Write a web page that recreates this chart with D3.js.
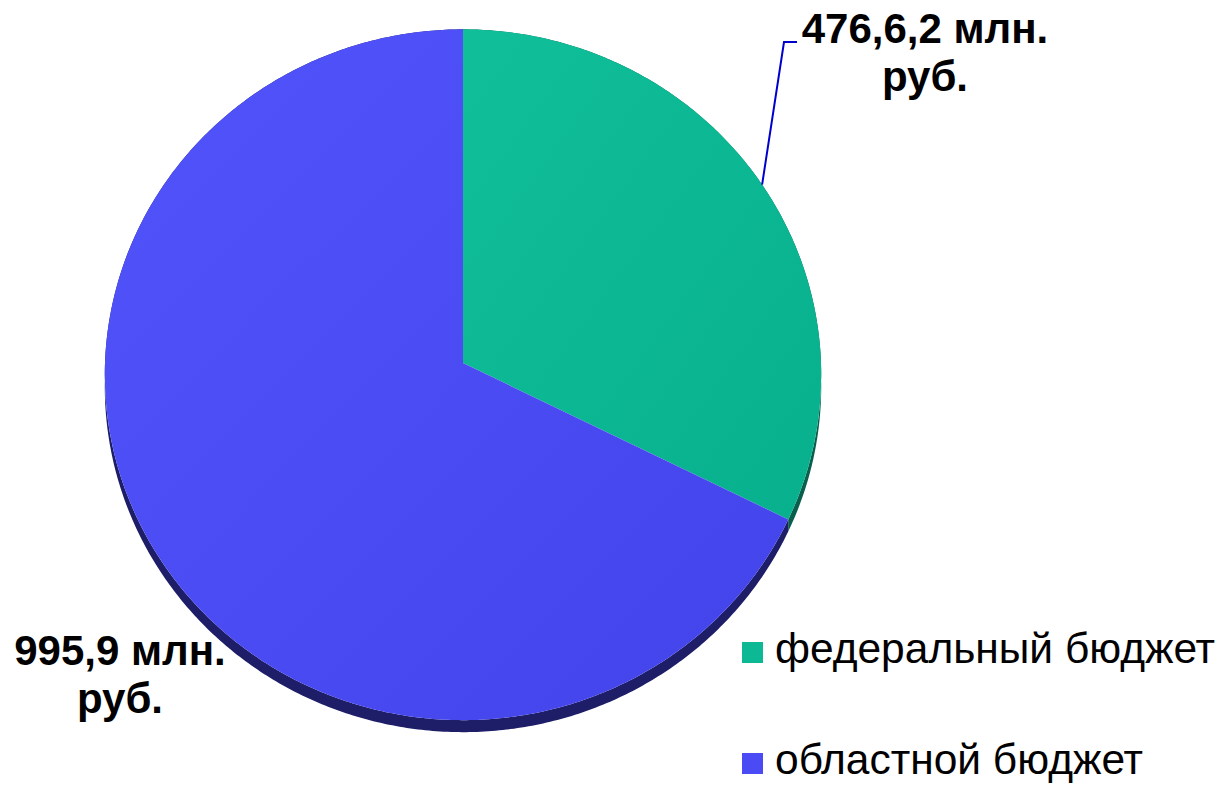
<!DOCTYPE html>
<html lang="ru">
<head>
  <meta charset="UTF-8">
  <title>Бюджет</title>
  <script src="https://d3js.org/d3.v7.min.js"></script>
  <style>
    body { margin: 0; background: #fff; }
    svg { display: block; }
  </style>
</head>
<body>
<script>
  // данные
  var categories = ["федеральный бюджет", "областной бюджет"];
  var values = [476.62, 995.9];
  var labels = [["476,6,2 млн.", "руб."], ["995,9 млн.", "руб."]];
  var colors = ["#0cb994", "#4a4bf4"];
  var sideColors = ["#0a5e4c", "#1d1d68"];

  var W = 1220, H = 787;
  var svg = d3.select("body").append("svg").attr("width", W).attr("height", H);

  // параметры псевдо-3D круга
  var cx = 463, cy = 363, A = 358, B = 345, k = 0.034, depth = 12;

  function proj(a, dy) {
    var u = Math.sin(a), v = Math.cos(a);
    var s = 1 + k * v;
    return [cx + A * u / s, cy - B * v / s + (dy || 0)];
  }
  function arcPts(a0, a1, dy) {
    var n = Math.max(2, Math.ceil((a1 - a0) / 0.01));
    return d3.range(n + 1).map(function(i) { return proj(a0 + (a1 - a0) * i / n, dy); });
  }

  var pie = d3.pie().sort(null).value(function(d) { return d; });
  var arcs = pie(values);

  var defs = svg.append("defs");
  var grads = [["#10bf9a", "#08b08d"], ["#5254fb", "#4343ea"]];
  grads.forEach(function(g, i) {
    var lg = defs.append("linearGradient").attr("id", "g" + i)
      .attr("x1", "0").attr("y1", "0").attr("x2", "1").attr("y2", "1");
    lg.append("stop").attr("offset", "0").attr("stop-color", g[0]);
    lg.append("stop").attr("offset", "1").attr("stop-color", g[1]);
  });

  var line = d3.line();

  // боковая грань
  svg.selectAll("path.side").data(arcs).enter().append("path")
    .attr("class", "side")
    .attr("fill", function(d, i) { return sideColors[i]; })
    .attr("d", function(d) {
      var top = arcPts(d.startAngle, d.endAngle, 0);
      var bot = arcPts(d.startAngle, d.endAngle, depth).reverse();
      return line(top.concat(bot)) + "Z";
    });

  // верхняя грань
  svg.selectAll("path.top").data(arcs).enter().append("path")
    .attr("class", "top")
    .attr("fill", function(d, i) { return "url(#g" + i + ")"; })
    .attr("d", function(d) {
      return line([[cx, cy]].concat(arcPts(d.startAngle, d.endAngle, 0))) + "Z";
    });

  // выноска
  var p0 = proj((arcs[0].startAngle + arcs[0].endAngle) / 2, 0);
  svg.append("path")
    .attr("d", line([p0, [784, 42], [797, 42]]))
    .attr("fill", "none").attr("stroke", "#0000cc").attr("stroke-width", 2);

  // подписи
  var labelPos = [[925, 43], [120, 665]];
  labels.forEach(function(lines, i) {
    var t = svg.append("text")
      .attr("x", labelPos[i][0]).attr("y", labelPos[i][1])
      .attr("text-anchor", "middle")
      .attr("font-family", "Liberation Sans, Arial, sans-serif")
      .attr("font-weight", "bold").attr("font-size", 42).attr("fill", "#000");
    lines.forEach(function(s, j) {
      t.append("tspan").attr("x", labelPos[i][0]).attr("dy", j ? 48 : 0).text(s);
    });
  });

  // легенда
  var leg = svg.selectAll("g.leg").data(categories).enter().append("g")
    .attr("class", "leg")
    .attr("transform", function(d, i) { return "translate(742," + (642 + i * 111) + ")"; });
  leg.append("rect").attr("width", 21).attr("height", 21)
    .attr("fill", function(d, i) { return colors[i]; });
  leg.append("text").attr("x", 33).attr("y", 21)
    .attr("font-family", "Liberation Sans, Arial, sans-serif")
    .attr("font-size", 42.5).attr("fill", "#000")
    .text(function(d) { return d; });
</script>
</body>
</html>
